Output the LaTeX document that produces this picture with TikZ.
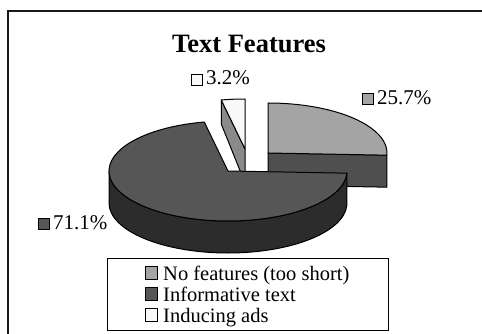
\documentclass[tikz,border=0pt]{standalone}
\usepackage{fontspec}
\setmainfont{Liberation Serif}
\definecolor{lg}{HTML}{A4A4A4}
\definecolor{dk}{HTML}{565656}
\definecolor{dkside}{HTML}{2C2C2C}
\definecolor{dkface}{HTML}{4F4F4F}
\definecolor{wt}{HTML}{F8F8F8}
\definecolor{wtface}{HTML}{8A8A8A}
\tikzset{
  pieline/.style={draw=black, line width=1pt, line join=round},
  sq/.style={draw=black, line width=0.8pt, minimum size=11pt, inner sep=0pt, outer sep=0pt},
  lsq/.style={draw=black, line width=0.8pt, minimum size=12.5pt, inner sep=0pt, outer sep=0pt},
  pct/.style={anchor=base west, inner sep=0pt, font=\fontsize{21}{21}\selectfont},
  legtxt/.style={anchor=base west, inner sep=0pt, font=\fontsize{20.5}{20.5}\selectfont},
}
\begin{document}
\begin{tikzpicture}[x=1pt,y=-1pt]
\useasboundingbox (0,0) rectangle (482,334);
\fill[white] (0,0) rectangle (482,334);
% outer frame
\draw[line width=1.5pt, color=black!90] (8,11) rectangle (520,360);
% title
\node[anchor=base, inner sep=0pt, font=\fontsize{26.5}{26.5}\selectfont\bfseries] (title) at (249,53) {Text Features};
% white slice (Inducing ads)
\coordinate (W) at (245,149);
\filldraw[pieline, fill=wtface] (W) -- (221.27,100) -- (221.27,124) -- (245,183) -- cycle;
\filldraw[pieline, fill=wt] (W) -- (245,99) arc[start angle=-90, end angle=-101.5, x radius=119, y radius=50] -- cycle;
% light gray slice (No features)
\coordinate (L) at (268,153);
\filldraw[pieline, fill=dkface] (L) -- (386.89,155.18) -- (386.89,187.18) -- (268,185) -- cycle;
\filldraw[pieline, fill=lg] (L) -- (268,103) arc[start angle=-90, end angle=2.5, x radius=119, y radius=50] -- cycle;
% big slice (Informative text)
\coordinate (B) at (228,171);
\filldraw[pieline, fill=dkside] (346.89,173.18) arc[start angle=2.5, end angle=180, x radius=119, y radius=50] -- ++(0,32) arc[start angle=180, end angle=2.5, x radius=119, y radius=50] -- cycle;
\filldraw[pieline, fill=dk] (B) -- (346.89,173.18) arc[start angle=2.5, end angle=258.5, x radius=119, y radius=50] -- cycle;
% data labels
\node[sq, fill=wt] (s3) at (197,79.5) {};
\node[pct] (t3) at (206,85) {3.2\%};
\node[sq, fill=lg] (s25) at (367.5,99) {};
\node[pct] (t25) at (377,104.5) {25.7\%};
\node[sq, fill=dk] (s71) at (43.5,224) {};
\node[pct] (t71) at (53,229.5) {71.1\%};
% legend
\node[draw=black, line width=1pt, minimum width=281pt, minimum height=72pt, inner sep=0pt, anchor=north west] (leg) at (107,258) {};
\node[lsq, fill=lg] (l1) at (151.5,273) {};
\node[legtxt] (lt1) at (163,280) {No features (too short)};
\node[lsq, fill=dk] (l2) at (151.5,294) {};
\node[legtxt] (lt2) at (163,301) {Informative text};
\node[lsq, fill=wt] (l3) at (151.5,315) {};
\node[legtxt] (lt3) at (163,322) {Inducing ads};
\end{tikzpicture}
\end{document}
